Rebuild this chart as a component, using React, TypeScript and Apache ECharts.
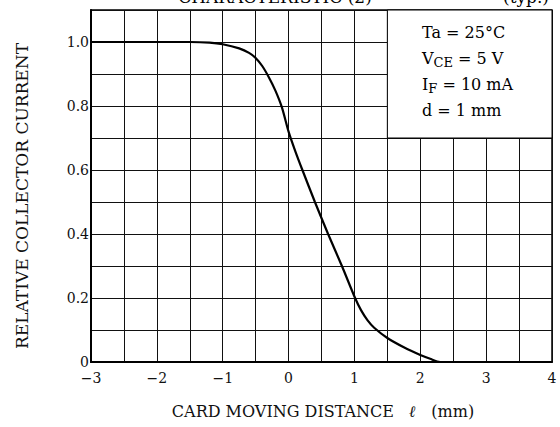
import React, { useEffect, useRef } from "react";
import * as echarts from "echarts";

const curveX = [-3, -2.5, -2, -1.5, -1.2, -1, -0.75, -0.6, -0.5, -0.4, -0.3, -0.2, -0.1, 0, 0.1, 0.21, 0.4, 0.6, 0.81, 1.01, 1.1, 1.2, 1.3, 1.5, 1.75, 2, 2.15, 2.3, 3, 4];
const curveY = [1.0, 1.0, 1.0, 1.0, 0.998, 0.993, 0.98, 0.966, 0.95, 0.925, 0.89, 0.848, 0.795, 0.72, 0.66, 0.6, 0.5, 0.4, 0.3, 0.2, 0.162, 0.13, 0.107, 0.075, 0.046, 0.022, 0.01, 0, 0, 0];
const conditions = ["Ta = 25°C", "V{sub|CE} = 5 V", "I{sub|F} = 10 mA", "d = 1 mm"];
const boxCorners = [[1.5, 0.7], [4, 1.1]];
const titleText = "CHARACTERISTIC (2)";
const typText = "(typ.)";
const yName = "RELATIVE COLLECTOR CURRENT";
const xName = "CARD MOVING DISTANCE   {it|ℓ}   (mm)";

const SERIF = "DejaVu Serif";

export default function App() {
  const ref = useRef<HTMLDivElement>(null);
  useEffect(() => {
    if (!ref.current) return;
    const chart = echarts.init(ref.current, null, { renderer: "svg" });
    const data = curveX.map((x, i) => [x, curveY[i]]);
    chart.setOption({
      animation: false,
      backgroundColor: "#fff",
      grid: { left: 91, right: 8, top: 10, bottom: 65, show: true, borderColor: "#000", borderWidth: 1.5 },
      xAxis: {
        type: "value",
        min: -3,
        max: 4,
        interval: 0.5,
        axisLine: { show: true, onZero: false, lineStyle: { color: "#000", width: 2 } },
        axisTick: { show: false },
        splitLine: { show: true, lineStyle: { color: "#111", width: 1 } },
        axisLabel: {
          color: "#111",
          fontFamily: SERIF,
          fontSize: 14,
          margin: 9,
          formatter: (v: number) => {
            if (Math.abs(v - Math.round(v)) > 1e-6) return "";
            const r = Math.round(v);
            return r < 0 ? "\u2212" + Math.abs(r) : String(r);
          },
        },
      },
      yAxis: {
        type: "value",
        min: 0,
        max: 1.1,
        interval: 0.1,
        axisLine: { show: true, onZero: false, lineStyle: { color: "#000", width: 2 } },
        axisTick: { show: false },
        splitLine: { show: true, lineStyle: { color: "#111", width: 1 } },
        axisLabel: {
          color: "#111",
          fontFamily: SERIF,
          fontSize: 14,
          margin: 2,
          formatter: (v: number) => {
            const t = Math.round(v * 10);
            if (t % 2 !== 0 || t > 10) return "";
            return t === 0 ? "0" : (t / 10).toFixed(1);
          },
        },
      },
      series: [
        {
          type: "line",
          data,
          smooth: 0.25,
          symbol: "none",
          lineStyle: { color: "#000", width: 2.2 },
          markArea: {
            silent: true,
            itemStyle: { color: "#fff", borderColor: "#000", borderWidth: 1 },
            data: [[{ coord: boxCorners[0] }, { coord: boxCorners[1] }]],
          },
          z: 3,
        },
      ],
      graphic: [
        {
          type: "text",
          style: { text: titleText, font: `17px "${SERIF}"`, fill: "#000", x: 275, y: 5, textAlign: "center", textVerticalAlign: "bottom" },
        },
        {
          type: "text",
          style: { text: typText, font: `17px "${SERIF}"`, fill: "#000", x: 549, y: 5, textAlign: "right", textVerticalAlign: "bottom" },
        },
        {
          type: "text",
          x: 22,
          y: 196,
          rotation: Math.PI / 2,
          style: { text: yName, font: `17px "${SERIF}"`, fill: "#111", textAlign: "center", textVerticalAlign: "middle" },
        },
        {
          type: "text",
          x: 323,
          y: 411,
          style: {
            text: xName,
            font: `16px "${SERIF}"`,
            fill: "#111",
            textAlign: "center",
            textVerticalAlign: "middle",
            rich: { it: { fontFamily: SERIF, fontSize: 16, fontStyle: "italic", fontWeight: "bold", fill: "#111" } },
          },
        },
        ...conditions.map((t, i) => ({
          type: "text",
          x: 422,
          y: 32 + i * 26,
          z: 10,
          style: {
            text: t,
            font: `16px "${SERIF}"`,
            fill: "#000",
            textVerticalAlign: "middle",
            rich: { sub: { fontFamily: SERIF, fontSize: 13, fill: "#000", padding: [8, 0, 0, 0] } },
          },
        })),
      ],
    });
    return () => chart.dispose();
  }, []);
  return <div ref={ref} style={{ width: 560, height: 427, position: "absolute", left: 0, top: 0 }} />;
}
